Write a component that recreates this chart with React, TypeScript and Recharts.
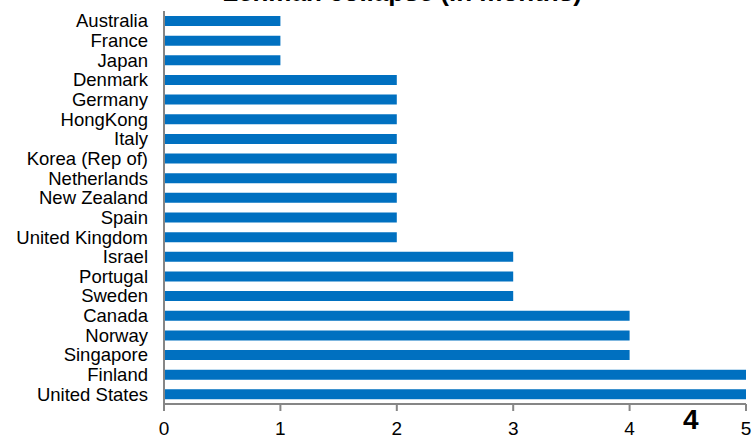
import React from 'react'
import { BarChart, Bar, XAxis, YAxis } from 'recharts'

const countries = [
  'Australia', 'France', 'Japan', 'Denmark', 'Germany', 'HongKong', 'Italy',
  'Korea (Rep of)', 'Netherlands', 'New Zealand', 'Spain', 'United Kingdom',
  'Israel', 'Portugal', 'Sweden', 'Canada', 'Norway', 'Singapore', 'Finland', 'United States',
]
const months = [1, 1, 1, 2, 2, 2, 2, 2, 2, 2, 2, 2, 3, 3, 3, 4, 4, 4, 5, 5]
const xTicks = [0, 1, 2, 3, 4, 5]

const data = countries.map((country, i) => ({ country, months: months[i] }))

const font = 'Arial, "Liberation Sans", sans-serif'

const App: React.FC = () => (
  <div style={{ position: 'absolute', left: 0, top: 0, width: 755, height: 437, overflow: 'hidden', fontFamily: font }}>
    <BarChart width={755} height={437} data={data} layout="vertical" margin={{ top: 11, right: 9, bottom: 0, left: 0 }}>
      <XAxis
        type="number"
        domain={[0, 5]}
        ticks={xTicks}
        height={33}
        stroke="#868686"
        strokeWidth={2}
        tickSize={7}
        tickMargin={11}
        tick={{ fill: '#000', fontSize: 19, fontFamily: font }}
      />
      <YAxis
        type="category"
        dataKey="country"
        width={164}
        stroke="#868686"
        strokeWidth={2}
        tickLine={false}
        tickSize={0}
        tickMargin={16}
        interval={0}
        tick={{ fill: '#000', fontSize: 18.5, fontFamily: font }}
      />
      <Bar dataKey="months" fill="#0070C0" barSize={10} isAnimationActive={false} />
    </BarChart>
    <div style={{ position: 'absolute', left: 0, width: 804, top: -23, textAlign: 'center', fontSize: 26, fontWeight: 'bold', lineHeight: '30px', whiteSpace: 'nowrap' }}>
      Lehman collapse (in months)
    </div>
    <div style={{ position: 'absolute', left: 683, top: 404, fontSize: 28, fontWeight: 'bold', lineHeight: '32px' }}>
      4
    </div>
  </div>
)

export default App
